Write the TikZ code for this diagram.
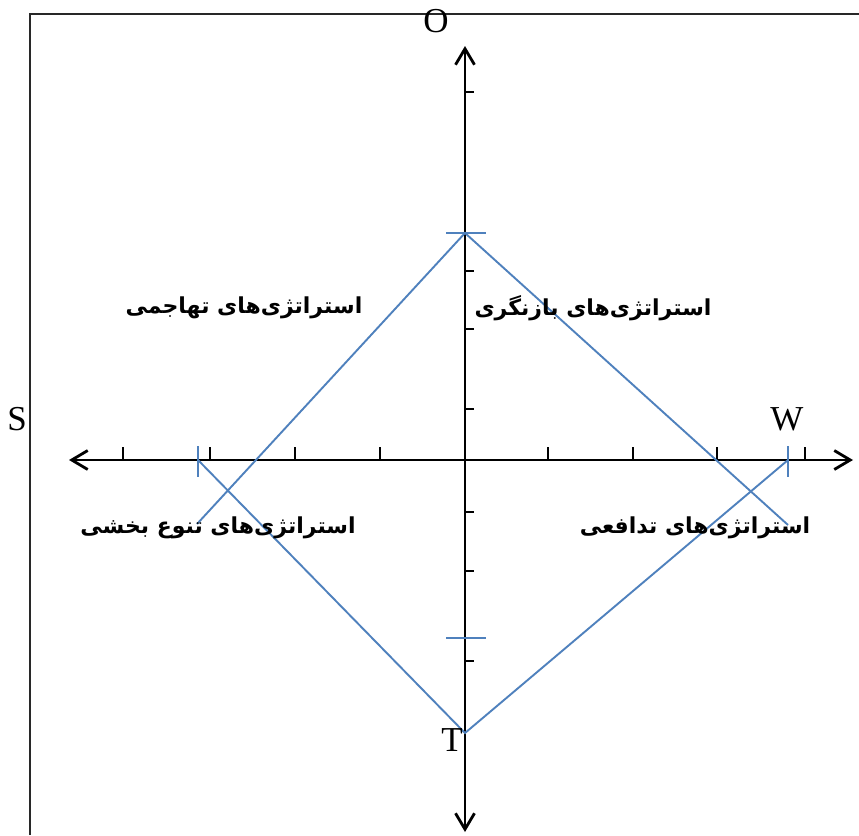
\documentclass[tikz,border=0pt]{standalone}
\usepackage{fontspec}
\setmainfont{Liberation Serif}
\newfontfamily\arabicfont[Script=Arabic]{DejaVu Sans}
\TeXXeTstate=1
\usetikzlibrary{arrows.meta}
\definecolor{diamondblue}{RGB}{79,129,189}
\definecolor{framegray}{RGB}{40,40,40}
\begin{document}
\begin{tikzpicture}[x=1pt,y=-1pt,
  frameline/.style={line width=1.5pt, draw=framegray},
  axisline/.style={line width=2.8pt, draw=black, {Straight Barb[length=16pt,width=19pt,line width=2.8pt]}-{Straight Barb[length=16pt,width=19pt,line width=2.8pt]}},
  tickline/.style={line width=2.6pt, draw=black},
  blueline/.style={line width=1.9pt, draw=diamondblue},
  bluetick/.style={line width=2.6pt, draw=diamondblue},
  letter/.style={inner sep=0pt, font=\fontsize{35}{35}\selectfont},
  plabel/.style={inner sep=0pt, font=\arabicfont\bfseries\fontsize{22}{26}\selectfont}
]
\useasboundingbox (0,0) rectangle (859,835);
\fill[white] (0,0) rectangle (859,835);
% frame
\coordinate (fb) at (30,835);
\coordinate (fc) at (30,14);
\coordinate (fr) at (859,14);
\draw[frameline] (fb) -- (fc) -- (fr);
% axes
\coordinate (axL) at (69,460);
\coordinate (axR) at (853,460);
\coordinate (axT) at (465,46);
\coordinate (axB) at (465,832);
\draw[axisline] (axL) -- (axR);
\draw[axisline] (axB) -- (axT);
% ticks on horizontal axis
\foreach \x in {123,210,295,380,548,633,717,805}
  \draw[tickline] (\x,460) -- (\x,447);
% ticks on vertical axis
\foreach \y in {92,233,271,329,409,512,571,638,661}
  \draw[tickline] (465,\y) -- (474,\y);
% diamond
\coordinate (dTop) at (465,233);
\coordinate (dLeft) at (198,460);
\coordinate (dRight) at (788,460);
\coordinate (dBot) at (465,733);
\coordinate (eRight) at (788,525);
\coordinate (eLeft) at (197,524);
\draw[blueline] (eLeft) -- (dTop) -- (eRight);
\draw[blueline] (dLeft) -- (dBot) -- (dRight);
% blue ticks
\coordinate (btTa) at (446,233);
\coordinate (btTb) at (486,233);
\coordinate (btBa) at (446,638);
\coordinate (btBb) at (486,638);
\coordinate (btLa) at (198,446);
\coordinate (btLb) at (198,477);
\coordinate (btRa) at (788,446);
\coordinate (btRb) at (788,477);
\draw[bluetick] (btTa) -- (btTb);
\draw[bluetick] (btBa) -- (btBb);
\draw[bluetick] (btLa) -- (btLb);
\draw[bluetick] (btRa) -- (btRb);
% letters
\node[letter] (lO) at (436,21) {O};
\node[letter] (lS) at (17,419) {S};
\node[letter] (lW) at (787,419) {W};
\node[letter] (lT) at (452,740) {T};
% Persian labels
\node[plabel] (q1) at (244,308) {\beginR استراتژی‌های تهاجمی\endR};
\node[plabel] (q2) at (593,308) {\beginR استراتژی‌های بازنگری\endR};
\node[plabel] (q3) at (218,528) {\beginR استراتژی‌های تنوع بخشی\endR};
\node[plabel] (q4) at (695,528) {\beginR استراتژی‌های تدافعی\endR};
\end{tikzpicture}
\end{document}
